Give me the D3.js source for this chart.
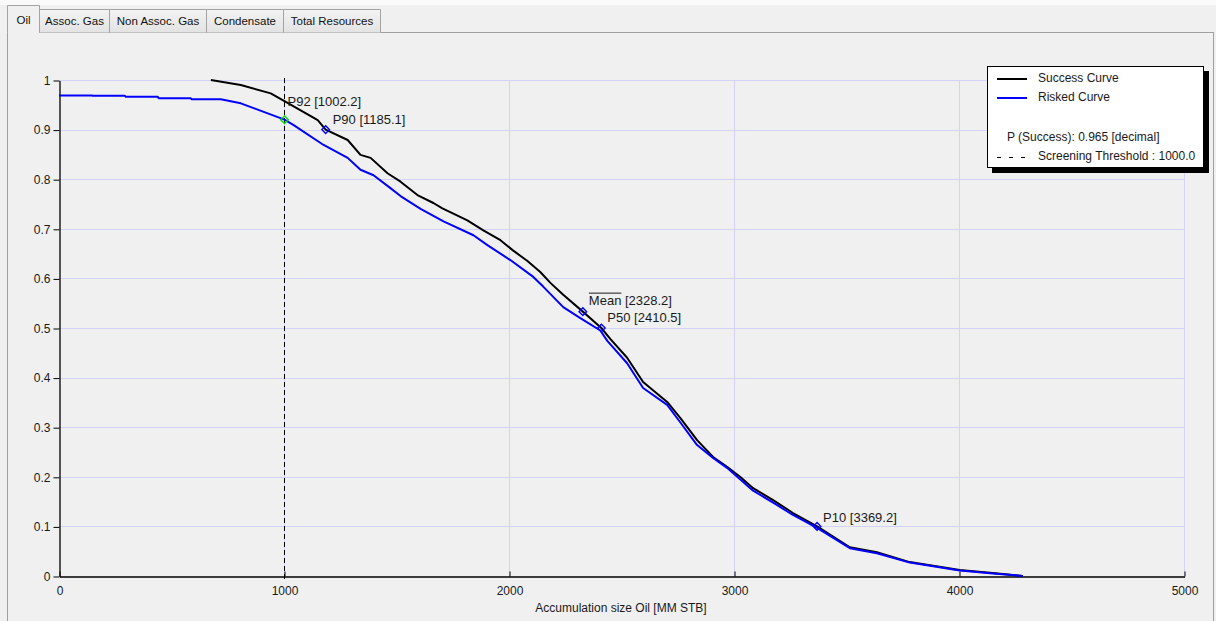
<!DOCTYPE html>
<html>
<head>
<meta charset="utf-8">
<script src="https://cdn.jsdelivr.net/npm/d3@7"></script>
<style>
  html, body { margin: 0; padding: 0; background: #f0f0f0; }
  svg { display: block; font-family: "Liberation Sans", Arial, sans-serif; }
</style>
</head>
<body>
<svg id="chart" width="1216" height="621"></svg>
<script>
// Tabs across the top of the panel
const tabNames = ["Oil", "Assoc. Gas", "Non Assoc. Gas", "Condensate", "Total Resources"];

// Axis ticks
const xTicks = [0, 1000, 2000, 3000, 4000, 5000];
const yTicks = [0, 0.1, 0.2, 0.3, 0.4, 0.5, 0.6, 0.7, 0.8, 0.9, 1];

// Success curve (exceedance probability vs accumulation size, MM STB)
const successX = [675, 808, 941, 1008, 1150, 1185.1, 1283, 1340, 1385, 1460, 1518, 1593, 1664, 1704, 1815, 1886, 1962, 2019, 2082, 2139, 2184, 2241, 2328.2, 2410.5, 2450, 2525, 2596, 2703, 2761, 2836, 2907, 2969, 3027, 3085, 3174, 3262, 3369.2, 3515, 3635, 3781, 4003, 4150, 4283];
const successP = [1.000, 0.990, 0.973, 0.956, 0.919, 0.900, 0.879, 0.849, 0.843, 0.812, 0.795, 0.768, 0.752, 0.741, 0.717, 0.697, 0.677, 0.656, 0.635, 0.613, 0.591, 0.567, 0.533, 0.500, 0.478, 0.440, 0.391, 0.351, 0.319, 0.274, 0.240, 0.220, 0.200, 0.177, 0.153, 0.127, 0.100, 0.058, 0.048, 0.028, 0.012, 0.006, 0.000];

// Risked curve
const riskedX = [0, 146, 150, 293, 297, 439, 444, 586, 590, 719, 808, 1002.2, 1043, 1176, 1283, 1340, 1398, 1473, 1518, 1607, 1709, 1842, 1904, 2006, 2108, 2153, 2241, 2317, 2406, 2437, 2525, 2596, 2703, 2761, 2836, 2907, 2969, 3027, 3085, 3174, 3262, 3369.2, 3515, 3635, 3781, 4003, 4150, 4283];
const riskedP = [0.969, 0.969, 0.968, 0.968, 0.966, 0.966, 0.963, 0.963, 0.961, 0.961, 0.953, 0.920, 0.909, 0.869, 0.843, 0.819, 0.808, 0.782, 0.766, 0.740, 0.715, 0.687, 0.667, 0.637, 0.603, 0.583, 0.542, 0.520, 0.495, 0.474, 0.429, 0.379, 0.345, 0.310, 0.264, 0.238, 0.218, 0.195, 0.172, 0.148, 0.123, 0.097, 0.056, 0.046, 0.027, 0.011, 0.005, 0.000];

// Percentile markers
const markerNames = ["P92", "P90", "Mean", "P50", "P10"];
const markerValues = [1002.2, 1185.1, 2328.2, 2410.5, 3369.2];
const markerProbs = [0.92, 0.90, 0.533, 0.50, 0.10];

// Screening threshold and success probability
const threshold = 1000.0;
const pSuccess = 0.965;

const xTitle = "Accumulation size Oil [MM STB]";
const legendNames = ["Success Curve", "Risked Curve"];

const svg = d3.select("#chart");
const W = 1216, H = 621;

// ---- window chrome: strip, tabs, panel border ----
svg.append("rect").attr("x", 0).attr("y", 0).attr("width", W).attr("height", 5).attr("fill", "#fafafa");

const panel = svg.append("g");
panel.append("line").attr("x1", 39).attr("x2", 1213.5).attr("y1", 32.5).attr("y2", 32.5).attr("stroke", "#a0a0a0");
panel.append("line").attr("x1", 7.5).attr("x2", 7.5).attr("y1", 32).attr("y2", H).attr("stroke", "#a0a0a0");
panel.append("line").attr("x1", 1213.5).attr("x2", 1213.5).attr("y1", 32).attr("y2", H).attr("stroke", "#a0a0a0");

const defs = svg.append("defs");
const grad = defs.append("linearGradient").attr("id", "tabGrad").attr("x1", 0).attr("x2", 0).attr("y1", 0).attr("y2", 1);
grad.append("stop").attr("offset", "0%").attr("stop-color", "#f3f3f3");
grad.append("stop").attr("offset", "100%").attr("stop-color", "#e3e3e3");

const tabEdges = [7.5, 39.5, 109.5, 206.5, 283.5, 380.5];
const tabs = svg.append("g").style("font-size", "11.5px");
tabNames.forEach((name, i) => {
  const x0 = tabEdges[i], x1 = tabEdges[i + 1];
  const sel = i === 0;
  const top = sel ? 5.5 : 9.5;
  tabs.append("path")
    .attr("d", `M${x0},32.5 V${top} H${x1} V32.5`)
    .attr("fill", sel ? "#f0f0f0" : "url(#tabGrad)")
    .attr("stroke", "#a3a3a3");
  tabs.append("text")
    .attr("x", (x0 + x1) / 2).attr("y", sel ? 20.5 : 21.5)
    .attr("text-anchor", "middle").attr("dominant-baseline", "middle")
    .attr("fill", "#111").text(name);
});
// selected tab blends into panel
tabs.append("line").attr("x1", 8).attr("x2", 39).attr("y1", 32.5).attr("y2", 32.5).attr("stroke", "#f0f0f0");

// ---- plot ----
const x = d3.scaleLinear().domain([0, 5000]).range([59, 1184]);
const y = d3.scaleLinear().domain([0, 1]).range([576, 80]);

const grid = svg.append("g").attr("stroke", "#d2d2fa").attr("stroke-width", 1);
yTicks.filter(t => t > 0).forEach(t => {
  grid.append("line").attr("x1", x(0)).attr("x2", x(5000))
    .attr("y1", Math.round(y(t)) + 0.5).attr("y2", Math.round(y(t)) + 0.5);
});
xTicks.filter(t => t > 0).forEach(t => {
  grid.append("line").attr("y1", y(1)).attr("y2", y(0))
    .attr("x1", Math.round(x(t)) + 0.5).attr("x2", Math.round(x(t)) + 0.5);
});

// axes
const xAxis = d3.axisBottom(x).tickValues(xTicks).tickFormat(d3.format("d")).tickSizeInner(-5).tickSizeOuter(0).tickPadding(10);
const gx = svg.append("g").attr("transform", "translate(0.5,576.5)").call(xAxis);
gx.select(".domain").attr("stroke", "#000").attr("stroke-width", 1.3);
gx.selectAll(".tick line").attr("stroke", "#000");
gx.selectAll("text").attr("fill", "#1a1a1a").style("font-size", "12px").style("font-family", "Liberation Sans, Arial, sans-serif");

const yAxis = d3.axisLeft(y).tickValues(yTicks).tickFormat(d => d === 0 || d === 1 ? String(d) : d.toFixed(1)).tickSizeInner(6).tickSizeOuter(0).tickPadding(3);
const gy = svg.append("g").attr("transform", "translate(59.5,0.5)").call(yAxis);
gy.select(".domain").attr("stroke", "#000").attr("stroke-width", 1.3);
gy.selectAll(".tick line").attr("stroke", "#000");
gy.selectAll("text").attr("fill", "#1a1a1a").style("font-size", "12px").style("font-family", "Liberation Sans, Arial, sans-serif");

svg.append("text").attr("x", 621).attr("y", 609)
  .attr("text-anchor", "middle").attr("dominant-baseline", "middle")
  .style("font-size", "12px").attr("fill", "#1a1a1a").text(xTitle);

// screening threshold
svg.append("line")
  .attr("x1", Math.round(x(threshold)) + 0.5).attr("x2", Math.round(x(threshold)) + 0.5)
  .attr("y1", y(1) - 2).attr("y2", y(0) + 3)
  .attr("stroke", "#000").attr("stroke-width", 1).attr("stroke-dasharray", "5,3");

// curves
const line = d3.line().x(d => x(d[0])).y(d => y(d[1]));
const successPts = successX.map((v, i) => [v, successP[i]]);
const riskedPts = riskedX.map((v, i) => [v, riskedP[i]]);

svg.append("path").datum(successPts).attr("d", line)
  .attr("fill", "none").attr("stroke", "#000").attr("stroke-width", 2).attr("stroke-linejoin", "round");
svg.append("path").datum(riskedPts).attr("d", line)
  .attr("fill", "none").attr("stroke", "#0000ff").attr("stroke-width", 2).attr("stroke-linejoin", "round");

// markers and labels
const labelOffsets = { P92: [3, -17], P90: [7, -9], Mean: [6, -10], P50: [6, -9], P10: [6, -8] };
const mk = svg.append("g");
markerNames.forEach((name, i) => {
  const cx = x(markerValues[i]), cy = y(markerProbs[i]);
  const r = 3.8;
  mk.append("path")
    .attr("d", `M${cx},${cy - r} L${cx + r},${cy} L${cx},${cy + r} L${cx - r},${cy} Z`)
    .attr("fill", "none")
    .attr("stroke", name === "P92" ? "#00dd00" : "#0000ff")
    .attr("stroke-width", 1.4);
  const [dx, dy] = labelOffsets[name];
  mk.append("text")
    .attr("x", cx + dx).attr("y", cy + dy)
    .attr("dominant-baseline", "middle")
    .style("font-size", "13px").attr("fill", "#1a1a1a")
    .text(`${name} [${markerValues[i].toFixed(1)}]`);
  if (name === "Mean") {
    // overline above the word "Mean"
    const tmp = mk.append("text").style("font-size", "13px").text(name);
    const w = tmp.node().getComputedTextLength();
    tmp.remove();
    mk.append("line")
      .attr("x1", cx + dx).attr("x2", cx + dx + w)
      .attr("y1", cy + dy - 8.5).attr("y2", cy + dy - 8.5)
      .attr("stroke", "#1a1a1a").attr("stroke-width", 1);
  }
});

// ---- legend ----
const lg = svg.append("g");
lg.append("rect").attr("x", 992).attr("y", 71).attr("width", 217).attr("height", 102).attr("fill", "#000");
lg.append("rect").attr("x", 987.5).attr("y", 66.5).attr("width", 216).attr("height", 101).attr("fill", "#fff").attr("stroke", "#000");
const lgFont = "12px";
[["#000", 79], ["#0000ff", 98]].forEach(([c, yy], i) => {
  lg.append("line").attr("x1", 997).attr("x2", 1027).attr("y1", yy).attr("y2", yy).attr("stroke", c).attr("stroke-width", 2);
  lg.append("text").attr("x", 1038).attr("y", yy).attr("dominant-baseline", "middle")
    .style("font-size", lgFont).attr("fill", "#1a1a1a").text(legendNames[i]);
});
lg.append("text").attr("x", 1007).attr("y", 138).attr("dominant-baseline", "middle")
  .style("font-size", lgFont).attr("fill", "#1a1a1a")
  .text(`P (Success): ${pSuccess.toFixed(3)} [decimal]`);
lg.append("line").attr("x1", 997).attr("x2", 1027).attr("y1", 157.5).attr("y2", 157.5)
  .attr("stroke", "#000").attr("stroke-width", 1).attr("stroke-dasharray", "4,8");
lg.append("text").attr("x", 1038).attr("y", 157).attr("dominant-baseline", "middle")
  .style("font-size", lgFont).attr("fill", "#1a1a1a")
  .text(`Screening Threshold : ${threshold.toFixed(1)}`);
</script>
</body>
</html>
